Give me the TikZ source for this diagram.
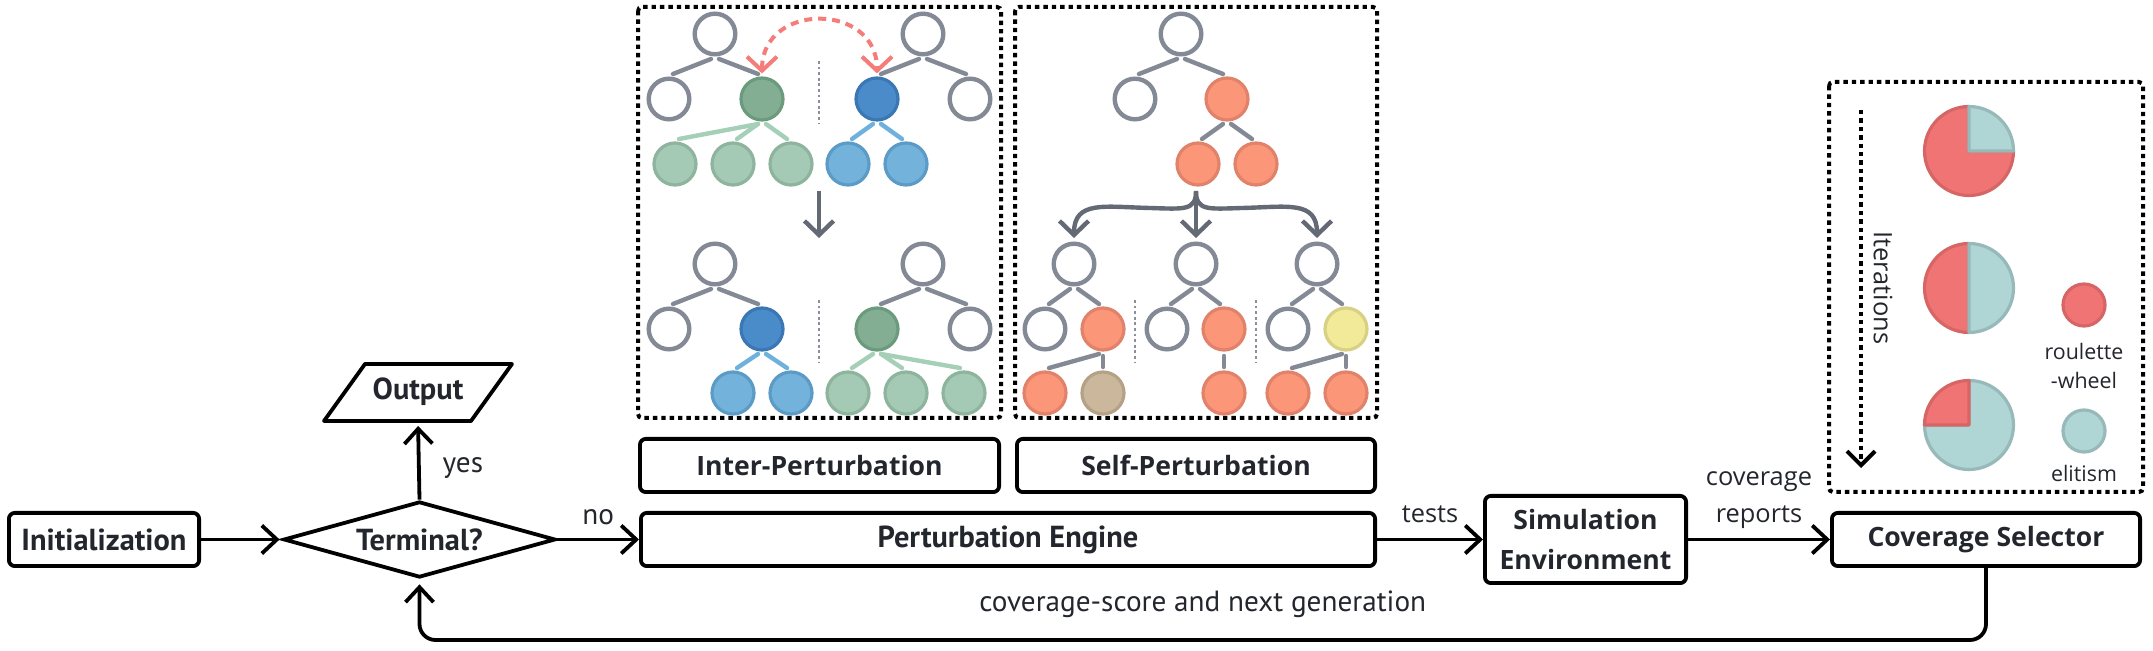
\documentclass[tikz,border=0pt]{standalone}
\usepackage{fontspec}
\setmainfont{Open Sans}
\newfontfamily\ptsans{PT Sans}
\usetikzlibrary{arrows.meta,calc,shapes.geometric}
\definecolor{txt}{HTML}{23262D}
\definecolor{treegray}{HTML}{848996}
\definecolor{arrowgray}{HTML}{646A75}
\definecolor{sepgray}{HTML}{8A8F99}
\definecolor{grFill}{HTML}{83AE93}
\definecolor{grDraw}{HTML}{6B9B7D}
\definecolor{lgFill}{HTML}{A4CAB5}
\definecolor{lgDraw}{HTML}{8EB49E}
\definecolor{lgEdge}{HTML}{A6CFB8}
\definecolor{blFill}{HTML}{4A8BC9}
\definecolor{blDraw}{HTML}{3A77B3}
\definecolor{lbFill}{HTML}{73B2DA}
\definecolor{lbDraw}{HTML}{5C9BC6}
\definecolor{lbEdge}{HTML}{6EB1DD}
\definecolor{orFill}{HTML}{FB9678}
\definecolor{orDraw}{HTML}{E1826A}
\definecolor{tanFill}{HTML}{CBB89C}
\definecolor{tanDraw}{HTML}{B5A286}
\definecolor{yeFill}{HTML}{F2EA98}
\definecolor{yeDraw}{HTML}{D8D084}
\definecolor{redArc}{HTML}{F47C79}
\definecolor{pieRed}{HTML}{F17474}
\definecolor{pieRedDraw}{HTML}{D66666}
\definecolor{pieTeal}{HTML}{AFD5D5}
\definecolor{pieTealDraw}{HTML}{97B9B9}
\newcommand\tEdgeL[3][treegray]{\draw[tedge,#1] ($(#2)+(-4,25)$) -- ($(#3)+(4,-25)$);}
\newcommand\tEdgeR[3][treegray]{\draw[tedge,#1] ($(#2)+(4,25)$) -- ($(#3)+(-4,-25)$);}
\newcommand\tEdgeV[3][treegray]{\draw[tedge,#1] ($(#2)+(0,27)$) -- ($(#3)+(0,-26)$);}
\begin{document}
\begin{tikzpicture}[x=0.5pt,y=-0.5pt,
  mbox/.style={draw=black, line width=1.9pt, rounded corners=3pt, inner sep=0pt, text=txt},
  nfont/.style={font=\ptsans\bfseries\fontsize{15.2}{18}\selectfont},
  ofont/.style={font=\bfseries\fontsize{13.3}{20}\selectfont},
  arr/.style={line width=1.9pt, -{Straight Barb[length=7.5pt,width=14pt]}},
  elab/.style={text=txt, inner sep=0pt, font=\fontsize{12.7}{18.5}\selectfont},
  nlab/.style={text=txt, inner sep=0pt, font=\ptsans\fontsize{14.6}{17}\selectfont},
  leglab/.style={text=txt, inner sep=0pt, font=\fontsize{10.7}{13}\selectfont},
  dbox/.style={line width=2pt, dash pattern=on 2.2pt off 2pt, rounded corners=2pt},
  tw/.style={circle, draw=treegray, line width=2.2pt, fill=white, minimum size=20.3pt, inner sep=0pt},
  tcol/.style={circle, line width=1.6pt, minimum size=21pt, inner sep=0pt},
  grn/.style={tcol, fill=grFill, draw=grDraw},
  lgr/.style={tcol, fill=lgFill, draw=lgDraw},
  blu/.style={tcol, fill=blFill, draw=blDraw},
  lbl/.style={tcol, fill=lbFill, draw=lbDraw},
  orn/.style={tcol, fill=orFill, draw=orDraw},
  tann/.style={tcol, fill=tanFill, draw=tanDraw},
  yel/.style={tcol, fill=yeFill, draw=yeDraw},
  tedge/.style={line width=2.2pt, line cap=round},
  sepline/.style={draw=sepgray, line width=1.1pt, dash pattern=on 1.4pt off 1.4pt},
  garr/.style={draw=arrowgray, line width=2.2pt, -{Straight Barb[length=7pt,width=14.5pt]}},
  pr/.style={fill=pieRed, draw=pieRedDraw, line width=1.6pt, line join=round},
  pt/.style={fill=pieTeal, draw=pieTealDraw, line width=1.6pt, line join=round},
]
\useasboundingbox (0,0) rectangle (2153,651);

% ---------------- main flow ----------------
\node[mbox, nfont, minimum width=95.1pt, minimum height=26.6pt] (init) at (104,539.5) {Initialization};
\node[diamond, draw=black, line width=1.9pt, aspect=3.53, minimum width=136pt, minimum height=38pt, inner sep=0pt, nfont, text=txt] (term) at (419.5,539.5) {Terminal?};
\node[nfont, text=txt, inner sep=0pt] (out) at (418,392) {Output};
\draw[line width=1.9pt, line join=round] ($(out)+(-94,29)$) -- ($(out)+(-53,-28)$) -- ($(out)+(94,-28)$) -- ($(out)+(53,29)$) -- cycle;
\coordinate (outB) at ($(out)+(0,29)$);
\node[mbox, nfont, minimum width=367.1pt, minimum height=26.6pt] (pe) at (1008,539.5) {Perturbation Engine};
\node[mbox, ofont, minimum width=179.6pt, minimum height=26.6pt] (inter) at (819.5,465.5) {Inter-Perturbation};
\node[mbox, ofont, minimum width=179.1pt, minimum height=26.6pt] (self) at (1196,465.5) {Self-Perturbation};
\node[mbox, ofont, align=center, minimum width=100.6pt, minimum height=43.6pt] (sim) at (1585.5,539.5) {Simulation\\Environment};
\node[mbox, ofont, minimum width=154.1pt, minimum height=26.6pt] (cov) at (1986,539.5) {Coverage Selector};

\draw[arr, shorten >=1pt] (init) -- (term);
\draw[arr, shorten >=2.5pt] (term.north) -- node[nlab, anchor=west, xshift=11pt, yshift=-4pt] {yes} (outB);
\draw[arr] (term.east) -- node[nlab, anchor=base, yshift=7.5pt] {no} (pe.west);
\draw[arr] (pe.east) -- node[elab, anchor=base, yshift=8.5pt] {tests} (sim.west);
\draw[arr] (sim.east) -- node[elab, anchor=south, align=center, yshift=4.5pt] {coverage\\reports} (cov.west);
\draw[arr, rounded corners=8pt, shorten >=2.5pt] (cov.south) -- ++(0,72) -| node[nlab, pos=0.25, anchor=base, yshift=14pt] {coverage-score and next generation} (term.south);

% ---------------- panels ----------------
\draw[dbox] (638,7) rectangle (1001,418);
\draw[dbox] (1015,7) rectangle (1377,418);
\draw[dbox] (1829,82) rectangle (2143,492);

% ---------------- inter-perturbation trees ----------------
\node[tw] (A1r) at (715,34) {};
\node[tw] (A1l) at (669,99) {};
\node[grn] (A1g) at (762,99) {};
\node[lgr] (A1a) at (675,164) {};
\node[lgr] (A1b) at (733,164) {};
\node[lgr] (A1c) at (791,164) {};
\tEdgeL{A1r}{A1l} \tEdgeR{A1r}{A1g}
\tEdgeL[lgEdge]{A1g}{A1a} \tEdgeL[lgEdge]{A1g}{A1b} \tEdgeR[lgEdge]{A1g}{A1c}

\node[tw] (B1r) at (923,34) {};
\node[blu] (B1b) at (877,99) {};
\node[tw] (B1x) at (970,99) {};
\node[lbl] (B1a) at (848,164) {};
\node[lbl] (B1c) at (906,164) {};
\tEdgeL{B1r}{B1b} \tEdgeR{B1r}{B1x}
\tEdgeL[lbEdge]{B1b}{B1a} \tEdgeR[lbEdge]{B1b}{B1c}

\draw[sepline] (819,61) -- (819,123);
\draw[redArc, line width=2pt, dash pattern=on 4pt off 3pt,
  {Straight Barb[length=7pt,width=15pt]}-{Straight Barb[length=7pt,width=15pt]}]
  ($(A1g.north)+(0,-3)$) .. controls (762,2) and (877,2) .. ($(B1b.north)+(0,-3)$);

\coordinate (dA) at (819,191);
\coordinate (dB) at (819,238);
\draw[garr] (dA) -- (dB);

\node[tw] (A2r) at (715,264) {};
\node[tw] (A2l) at (669,329) {};
\node[blu] (A2b) at (762,329) {};
\node[lbl] (A2a) at (733,393) {};
\node[lbl] (A2c) at (791,393) {};
\tEdgeL{A2r}{A2l} \tEdgeR{A2r}{A2b}
\tEdgeL[lbEdge]{A2b}{A2a} \tEdgeR[lbEdge]{A2b}{A2c}

\node[tw] (B2r) at (923,264) {};
\node[grn] (B2g) at (877,329) {};
\node[tw] (B2x) at (970,329) {};
\node[lgr] (B2a) at (848,393) {};
\node[lgr] (B2b) at (906,393) {};
\node[lgr] (B2c) at (964,393) {};
\tEdgeL{B2r}{B2g} \tEdgeR{B2r}{B2x}
\tEdgeL[lgEdge]{B2g}{B2a} \tEdgeR[lgEdge]{B2g}{B2b} \tEdgeR[lgEdge]{B2g}{B2c}

\draw[sepline] (819,300) -- (819,362);

% ---------------- self-perturbation trees ----------------
\node[tw] (Sr) at (1181,34) {};
\node[tw] (Sl) at (1135,99) {};
\node[orn] (So) at (1227,99) {};
\node[orn] (Sa) at (1198,164) {};
\node[orn] (Sb) at (1256,164) {};
\tEdgeL{Sr}{Sl} \tEdgeR{Sr}{So}
\tEdgeL{So}{Sa} \tEdgeR{So}{Sb}

\coordinate (sp) at (1196,191);
\coordinate (t1) at (1074,238);
\coordinate (t2) at (1196,238);
\coordinate (t3) at (1317,238);
\draw[garr] (sp) .. controls (1196,211) and (1184,209) .. (1150,208) .. controls (1105,207) and (1074,200) .. (t1);
\draw[garr] (sp) -- (t2);
\draw[garr] (sp) .. controls (1196,211) and (1208,209) .. (1242,208) .. controls (1287,207) and (1317,200) .. (t3);

\node[tw] (T1r) at (1074,264) {};
\node[tw] (T1l) at (1045,329) {};
\node[orn] (T1o) at (1103,329) {};
\node[orn] (T1a) at (1045,393) {};
\node[tann] (T1t) at (1103,393) {};
\tEdgeL{T1r}{T1l} \tEdgeR{T1r}{T1o}
\tEdgeL{T1o}{T1a} \tEdgeV{T1o}{T1t}

\node[tw] (T2r) at (1196,264) {};
\node[tw] (T2l) at (1167,329) {};
\node[orn] (T2o) at (1224,329) {};
\node[orn] (T2a) at (1224,393) {};
\tEdgeL{T2r}{T2l} \tEdgeR{T2r}{T2o}
\tEdgeV{T2o}{T2a}

\node[tw] (T3r) at (1317,264) {};
\node[tw] (T3l) at (1288,329) {};
\node[yel] (T3y) at (1346,329) {};
\node[orn] (T3a) at (1288,393) {};
\node[orn] (T3b) at (1346,393) {};
\tEdgeL{T3r}{T3l} \tEdgeR{T3r}{T3y}
\tEdgeL{T3y}{T3a} \tEdgeV{T3y}{T3b}

\draw[sepline] (1135,300) -- (1135,362);
\draw[sepline] (1256,300) -- (1256,362);

% ---------------- coverage selector panel ----------------
\coordinate (itA) at (1861,110);
\coordinate (itB) at (1861,468);
\draw[line width=2pt, dash pattern=on 2.2pt off 2pt, -{Straight Barb[length=7pt,width=14pt]}] (itA) -- (itB);
\node[rotate=-90, text=txt, inner sep=0pt, font=\fontsize{12.7}{15}\selectfont] (iter) at (1883,288) {Iterations};

% pies (angles: 0 right, 90 down, 180 left, 270 up)
\coordinate (p1) at (1969,151);
\coordinate (p2) at (1969,288);
\coordinate (p3) at (1969,425);
\draw[pr] (p1) -- ++(0:44.5) arc[start angle=0, end angle=270, radius=44.5] -- cycle;
\draw[pt] (p1) -- ++(270:44.5) arc[start angle=270, end angle=360, radius=44.5] -- cycle;
\draw[pr] (p2) -- ++(90:44.5) arc[start angle=90, end angle=270, radius=44.5] -- cycle;
\draw[pt] (p2) -- ++(270:44.5) arc[start angle=270, end angle=450, radius=44.5] -- cycle;
\draw[pt] (p3) -- ++(270:44.5) arc[start angle=270, end angle=540, radius=44.5] -- cycle;
\draw[pr] (p3) -- ++(180:44.5) arc[start angle=180, end angle=270, radius=44.5] -- cycle;

\node[circle, fill=pieRed, draw=pieRedDraw, line width=1.6pt, minimum size=21pt, inner sep=0pt] (legR) at (2084,305) {};
\node[leglab] (legRt) at (2084,351) {roulette};
\node[leglab] (legRt2) at (2084,380) {-wheel};
\node[circle, fill=pieTeal, draw=pieTealDraw, line width=1.6pt, minimum size=21pt, inner sep=0pt] (legT) at (2084,431) {};
\node[leglab] (legTt) at (2084,473) {elitism};
\end{tikzpicture}
\end{document}
